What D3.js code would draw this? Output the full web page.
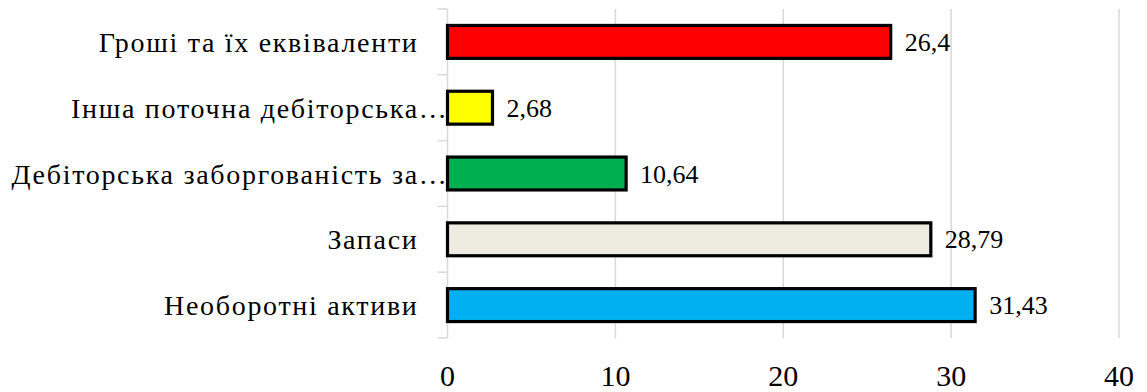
<!DOCTYPE html>
<html>
<head>
<meta charset="utf-8">
<script src="https://cdn.jsdelivr.net/npm/d3@7"></script>
<style>
    body { margin: 0; background: #fff; }
    svg { display: block; }
    text { font-family: "Liberation Serif", "Times New Roman", serif; fill: #000; }
</style>
</head>
<body>
<svg id="chart" width="1147" height="392"></svg>
<script>
const categories = [
    'Гроші та їх еквіваленти',
    'Інша поточна дебіторська…',
    'Дебіторська заборгованість за…',
    'Запаси',
    'Необоротні активи'
];
const values = [26.4, 2.68, 10.64, 28.79, 31.43];
const barColors = ['#ff0000', '#ffff00', '#00b050', '#eeece1', '#00b0f0'];
const xTicks = [0, 10, 20, 30, 40];

const svg = d3.select('#chart');
const margin = {top: 9, right: 28, bottom: 54, left: 447.5};
const width = 1147 - margin.left - margin.right;
const height = 392 - margin.top - margin.bottom;

const data = categories.map((c, i) => ({name: c, value: values[i], color: barColors[i]}));

const x = d3.scaleLinear().domain([0, 40]).range([0, width]);
const y = d3.scaleBand().domain(categories).range([0, height]).paddingInner(0.5).paddingOuter(0.25);

const g = svg.append('g').attr('transform', `translate(${margin.left},${margin.top})`);

// vertical gridlines
g.selectAll('.grid')
    .data(xTicks.slice(1))
    .enter().append('line')
    .attr('class', 'grid')
    .attr('x1', d => x(d)).attr('x2', d => x(d))
    .attr('y1', 0).attr('y2', height)
    .attr('stroke', '#d9d9d9')
    .attr('stroke-width', 1.5);

// category axis line and boundary ticks
g.append('line')
    .attr('x1', 0).attr('x2', 0)
    .attr('y1', 0).attr('y2', height)
    .attr('stroke', '#d9d9d9')
    .attr('stroke-width', 1.5);

const step = y.step();
g.selectAll('.cat-tick')
    .data(d3.range(categories.length + 1))
    .enter().append('line')
    .attr('class', 'cat-tick')
    .attr('x1', -10).attr('x2', 0)
    .attr('y1', d => d * step).attr('y2', d => d * step)
    .attr('stroke', '#d9d9d9')
    .attr('stroke-width', 1.5);

// bars
g.selectAll('.bar')
    .data(data)
    .enter().append('rect')
    .attr('class', 'bar')
    .attr('x', 0)
    .attr('y', d => y(d.name))
    .attr('width', d => x(d.value))
    .attr('height', y.bandwidth())
    .attr('fill', d => d.color)
    .attr('stroke', '#000')
    .attr('stroke-width', 3.2);

// value labels
g.selectAll('.val')
    .data(data)
    .enter().append('text')
    .attr('class', 'val')
    .attr('x', d => x(d.value) + 14)
    .attr('y', d => y(d.name) + y.bandwidth() / 2)
    .attr('dy', '0.35em')
    .style('font-size', '26px')
    .text(d => String(d.value).replace('.', ','));

// category labels
g.selectAll('.cat')
    .data(data)
    .enter().append('text')
    .attr('class', 'cat')
    .attr('x', d => d.name.endsWith('…') ? 1 : -29)
    .attr('y', d => y(d.name) + y.bandwidth() / 2)
    .attr('dy', '0.36em')
    .attr('text-anchor', 'end')
    .style('font-size', '28px')
    .style('letter-spacing', '1.7px')
    .text(d => d.name);

// x tick labels
g.selectAll('.xt')
    .data(xTicks)
    .enter().append('text')
    .attr('class', 'xt')
    .attr('x', d => x(d))
    .attr('y', height + 48)
    .attr('text-anchor', 'middle')
    .style('font-size', '30px')
    .text(d => d);
</script>
</body>
</html>
